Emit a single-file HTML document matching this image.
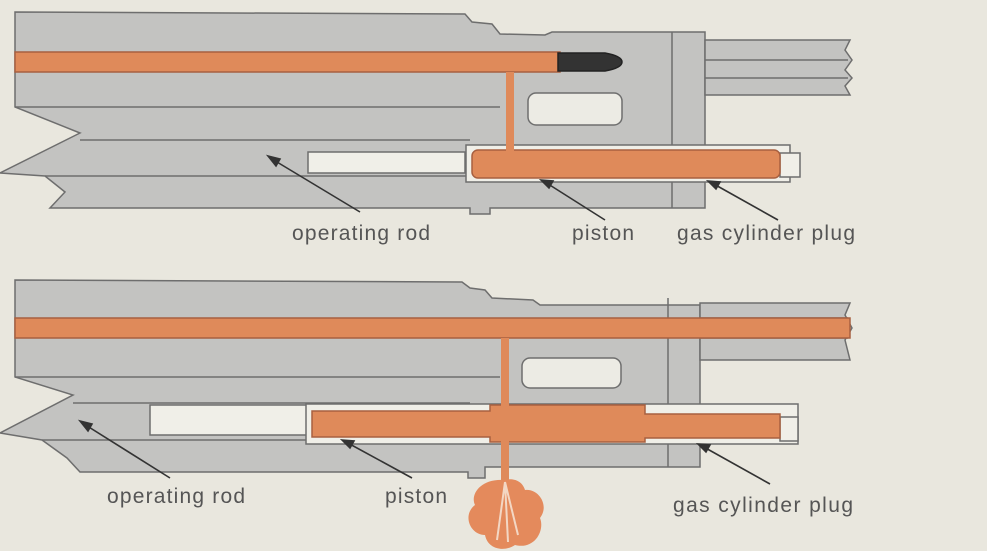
<!DOCTYPE html>
<html><head><meta charset="utf-8"><style>
html,body{margin:0;padding:0;background:#e9e7de;}
svg{display:block}
text{font-family:"Liberation Sans",sans-serif;fill:#555;font-size:21px}
</style></head><body>
<svg width="987" height="551" viewBox="0 0 987 551" xmlns="http://www.w3.org/2000/svg">
<rect width="987" height="551" fill="#e9e7de"/>
<g stroke="#6e6e6e" stroke-width="1.5" fill="#c3c3c1">
<!-- TOP DIAGRAM -->
<polygon points="15,12 465,14 472,22 492,24 500,34 545,35 552,32 705,32 705,208 490,208 490,214 470,214 470,208 50,208 65,192 45,176 0,173 80,133 15,107"/>
<polyline fill="none" points="15,107 500,107"/>
<polyline fill="none" points="80,140 470,140"/>
<polyline fill="none" points="45,176 470,176"/>
<line x1="672" y1="32" x2="672" y2="208"/>
<polygon points="705,40 850,40 845,50 852,60 845,70 852,78 845,86 850,95 705,95"/>
<line x1="705" y1="60" x2="848" y2="60"/><line x1="705" y1="78" x2="848" y2="78"/>
<rect x="528" y="93" width="94" height="32" rx="8" fill="#ecebe4"/>
<rect x="308" y="152" width="157" height="21" fill="#f0efe8"/>
<rect x="466" y="145" width="324" height="37" fill="#f0efe8"/>
<rect x="780" y="153" width="20" height="24" fill="#f0efe8"/>
<rect x="472" y="150" width="308" height="28" rx="6" fill="#df8a5a" stroke="#a86040"/>
<rect x="15" y="52" width="545" height="20" fill="#df8a5a" stroke="#a86040"/>
<rect x="506" y="72" width="8" height="80" fill="#df8a5a" stroke="none"/>
<path d="M558,53 L605,53 Q622,56 622,62 Q622,68 605,71 L558,71 Z" fill="#333" stroke="#222"/>
<!-- BOTTOM DIAGRAM -->
<polygon points="15,280 462,282 470,288 485,290 492,298 533,300 540,305 700,305 700,467 485,467 485,478 468,478 468,472 80,472 67,458 42,440 0,433 73,395 15,377"/>
<polyline fill="none" points="15,377 500,377"/>
<polyline fill="none" points="73,403 470,403"/>
<polyline fill="none" points="42,440 470,440"/>
<line x1="668" y1="298" x2="668" y2="467"/>
<polygon points="700,303 850,303 845,315 852,328 845,340 850,360 700,360"/>
<line x1="700" y1="318" x2="848" y2="318"/><line x1="700" y1="338" x2="848" y2="338"/>
<rect x="522" y="358" width="99" height="30" rx="8" fill="#ecebe4"/>
<rect x="150" y="405" width="160" height="30" fill="#f0efe8"/>
<rect x="306" y="404" width="492" height="40" fill="#f0efe8"/>
<rect x="780" y="417" width="18" height="24" fill="#f0efe8"/>
<polygon points="312,411 490,411 490,405 645,405 645,414 780,414 780,438 645,438 645,442 490,442 490,437 312,437" fill="#df8a5a" stroke="#a86040"/>
<rect x="15" y="318" width="835" height="20" fill="#df8a5a" stroke="#a86040"/>
<rect x="501" y="338" width="8" height="70" fill="#df8a5a" stroke="none"/>
<rect x="501" y="440" width="8" height="42" fill="#df8a5a" stroke="none"/>
<path d="M505,480 C480,478 470,495 475,505 C462,515 470,535 485,535 C488,550 505,552 515,545 C535,550 545,530 540,518 C550,505 538,488 525,490 C522,480 512,478 505,480 Z" fill="#e48a5c" stroke="none"/>
<path d="M505,482 L497,540 M505,482 L508,542 M505,482 L518,535" stroke="#f3d7c4" stroke-width="2" fill="none"/>
</g>
<!-- leaders -->
<g stroke="#333" stroke-width="1.6" fill="#333">
<line x1="272" y1="159" x2="360" y2="212"/><polygon points="268,156 280,159 276,166"/>
<line x1="545" y1="182" x2="605" y2="220"/><polygon points="541,180 553,181 549,188"/>
<line x1="712" y1="183" x2="778" y2="220"/><polygon points="708,181 720,182 716,189"/>
<line x1="84" y1="424" x2="170" y2="478"/><polygon points="80,421 92,424 88,431"/>
<line x1="346" y1="442" x2="412" y2="478"/><polygon points="342,440 354,441 350,448"/>
<line x1="702" y1="446" x2="770" y2="484"/><polygon points="698,444 710,445 706,452"/>
</g>
<text x="292" y="240" textLength="138">operating rod</text>
<text x="572" y="240" textLength="62">piston</text>
<text x="677" y="240" textLength="178">gas cylinder plug</text>
<text x="107" y="503" textLength="138">operating rod</text>
<text x="385" y="503" textLength="62">piston</text>
<text x="673" y="512" textLength="180">gas cylinder plug</text>
</svg>
</body></html>
